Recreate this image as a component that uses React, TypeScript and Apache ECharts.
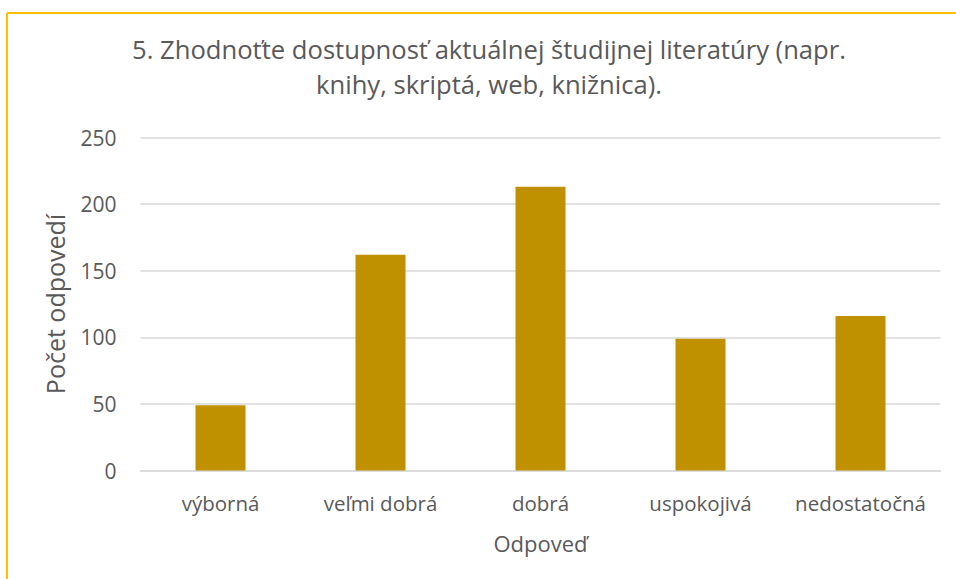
import React, { useEffect, useRef } from "react";
import * as echarts from "echarts";

const categories = ["výborná", "veľmi dobrá", "dobrá", "uspokojivá", "nedostatočná"];
const values = [49, 162, 213, 99, 116];
const titleText = "5. Zhodnoťte dostupnosť aktuálnej študijnej literatúry (napr.\nknihy, skriptá, web, knižnica).";
const yAxisName = "Počet odpovedí";
const xAxisName = "Odpoveď";

const FONT = "'Open Sans', 'Noto Sans', sans-serif";
const TEXT = "#595959";

export default function App() {
  const ref = useRef<HTMLDivElement>(null);
  useEffect(() => {
    if (!ref.current) return;
    const chart = echarts.init(ref.current, undefined, { renderer: "svg" });
    chart.setOption({
      animation: false,
      backgroundColor: "#ffffff",
      textStyle: { fontFamily: FONT },
      title: {
        text: titleText,
        left: 484,
        top: 27,
        textAlign: "center",
        textStyle: { fontFamily: FONT, fontSize: 25.6, fontWeight: "normal", color: TEXT, lineHeight: 35 },
      },
      graphic: [
        { type: "line", shape: { x1: 7, y1: 13, x2: 956, y2: 13 }, style: { stroke: "#FFC000", lineWidth: 2 } },
        { type: "line", shape: { x1: 7, y1: 13, x2: 7, y2: 579 }, style: { stroke: "#FFC000", lineWidth: 2 } },
      ],
      grid: { left: 140.5, right: 15.5, top: 137.5, bottom: 108.5, containLabel: false },
      xAxis: {
        type: "category",
        data: categories,
        axisLine: { show: true, lineStyle: { color: "#d9d9d9", width: 1.5 } },
        axisTick: { show: false },
        axisLabel: { color: TEXT, fontSize: 20.5, fontFamily: FONT, margin: 22, interval: 0, hideOverlap: false },
        name: xAxisName,
        nameLocation: "middle",
        nameGap: 61,
        nameTextStyle: { color: TEXT, fontSize: 22, fontFamily: FONT },
      },
      yAxis: {
        type: "value",
        min: 0,
        max: 250,
        interval: 50,
        axisLine: { show: false },
        axisTick: { show: false },
        splitLine: { lineStyle: { color: "#d9d9d9", width: 1.5 } },
        axisLabel: { color: TEXT, fontSize: 21, fontFamily: FONT, margin: 24 },
        name: yAxisName,
        nameLocation: "middle",
        nameGap: 73,
        nameRotate: 90,
        nameTextStyle: { color: TEXT, fontSize: 25, fontFamily: FONT },
      },
      series: [
        {
          type: "bar",
          data: values,
          barWidth: 50,
          itemStyle: { color: "#BF9000" },
        },
      ],
    });
    return () => chart.dispose();
  }, []);
  return <div ref={ref} style={{ position: "absolute", left: 0, top: 0, width: 956, height: 579 }} />;
}
